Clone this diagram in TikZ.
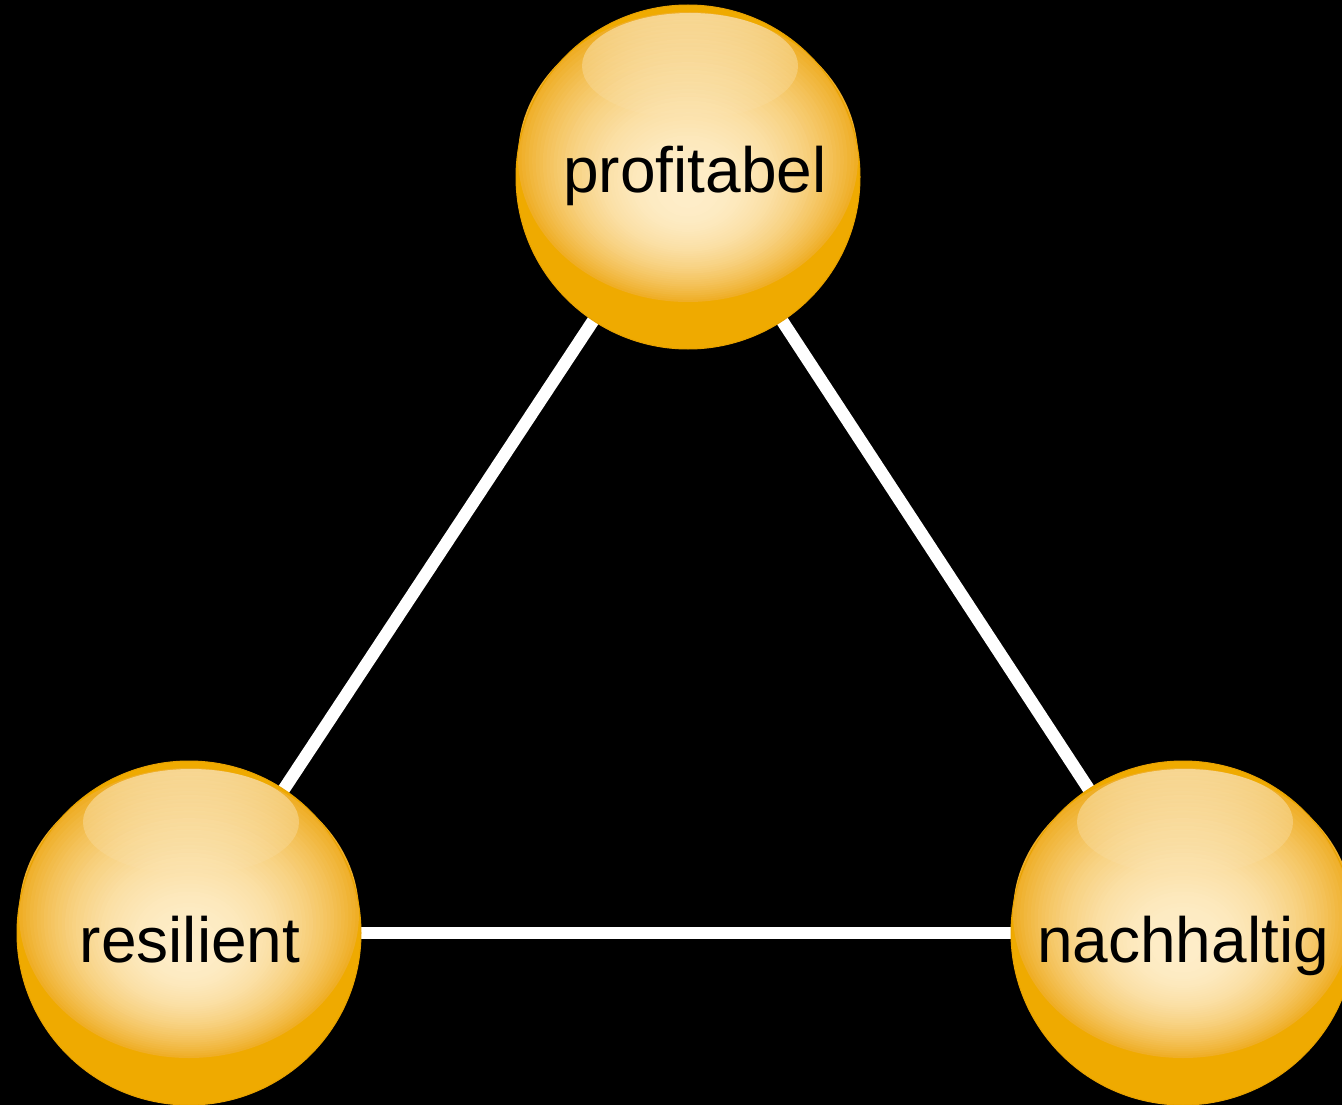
\documentclass[tikz,border=0pt]{standalone}
\usepackage{fontspec}
\setmainfont{Liberation Sans}
\usetikzlibrary{fadings}
\definecolor{ballorange}{RGB}{239,170,0}
\definecolor{ballrim}{RGB}{232,162,0}
\definecolor{creama}{RGB}{254,237,200}
\definecolor{inneredge}{RGB}{239,174,38}
\tikzfading[name=hlfade, top color=transparent!50, bottom color=transparent!100]
\newcommand\drawball[1]{%
  \begin{scope}[shift={(#1)}]
    \fill[ballorange] (0,0) circle[radius=172];
    \foreach \k in {48,47,...,1}{%
      \pgfmathsetmacro\tt{\k/48}%
      \pgfmathtruncatemacro\pp{100*(\tt)^2.2}%
      \pgfmathsetmacro\cy{20-40*\tt}%
      \pgfmathsetmacro\rx{170*\tt}%
      \pgfmathsetmacro\ry{145*\tt}%
      \fill[inneredge!\pp!creama] (0,\cy) ellipse[x radius=\rx, y radius=\ry];
    }
    \fill[white, path fading=hlfade] (2,-111) ellipse[x radius=108, y radius=53];
    \draw[ballrim, line width=1] (0,0) circle[radius=172];
  \end{scope}}
\begin{document}
\begin{tikzpicture}[x=1pt, y=-1pt,
  conn/.style={draw=white, line width=12.5},
  lbl/.style={font=\fontsize{64}{72}\selectfont, text=black, inner sep=0pt, anchor=base}]
  \useasboundingbox (0,0) rectangle (1342,1105);
  \fill[black] (0,0) rectangle (1342,1105);
  \clip (0,0) rectangle (1342,1105);
  \coordinate (P) at (688,177);
  \coordinate (R) at (189,933);
  \coordinate (N) at (1183,933);
  \draw[conn] (P) -- (R);
  \draw[conn] (P) -- (N);
  \draw[conn] (R) -- (N);
  \drawball{P}
  \drawball{R}
  \drawball{N}
  \node[lbl] (profitabel) at (695,193) {profitabel};
  \node[lbl] (resilient) at (190,962) {resilient};
  \node[lbl] (nachhaltig) at (1183,962) {nachhaltig};
\end{tikzpicture}
\end{document}
